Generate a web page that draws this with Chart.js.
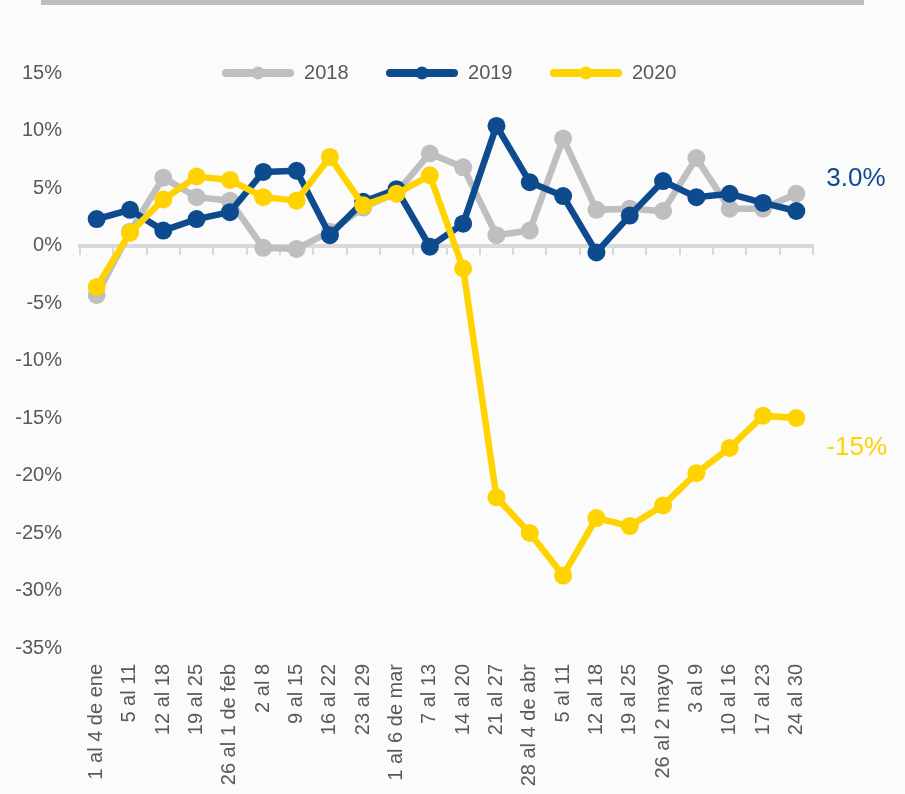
<!DOCTYPE html>
<html>
<head>
<meta charset="utf-8">
<script src="https://cdn.jsdelivr.net/npm/chart.js@4/dist/chart.umd.min.js"></script>
<style>
  html, body { margin: 0; padding: 0; background: #fbfbfb; }
  #wrap { position: relative; width: 905px; height: 794px; }
  #bar { position: absolute; left: 41px; top: 0; width: 823px; height: 5px; background: #bcbdc1; }
  canvas { display: block; }
</style>
</head>
<body>
<div id="wrap">
  <canvas id="c" width="905" height="794"></canvas>
  <div id="bar"></div>
</div>
<script>
// ---- data ----
const categories = ['1 al 4 de ene','5 al 11','12 al 18','19 al 25','26 al 1 de feb','2 al 8','9 al 15','16 al 22','23 al 29','1 al 6 de mar','7 al 13','14 al 20','21 al 27','28 al 4 de abr','5 al 11','12 al 18','19 al 25','26 al 2 mayo','3 al 9','10 al 16','17 al 23','24 al 30'];
const seriesNames = ['2018', '2019', '2020'];
const values2018 = [-4.3, 1.2, 5.9, 4.2, 3.9, -0.2, -0.3, 1.2, 3.3, 4.6, 8.0, 6.8, 0.9, 1.3, 9.3, 3.1, 3.2, 3.0, 7.6, 3.2, 3.2, 4.5];
const values2019 = [2.3, 3.1, 1.3, 2.3, 2.9, 6.4, 6.5, 0.9, 3.8, 4.9, -0.1, 1.9, 10.4, 5.5, 4.3, -0.6, 2.6, 5.6, 4.2, 4.5, 3.7, 3.0];
const values2020 = [-3.6, 1.1, 4.0, 6.0, 5.7, 4.2, 3.9, 7.7, 3.5, 4.5, 6.1, -2.0, -21.9, -25.0, -28.7, -23.7, -24.4, -22.6, -19.8, -17.6, -14.8, -15.0];
const endLabels = { '2019': '3.0%', '2020': '-15%' };
const yMin = -35, yMax = 15, yStep = 5;

// ---- styles ----
const GRAY = '#bfbfc1', BLUE = '#0e4a8e', YELLOW = '#ffd300', TEXT = '#595959', AXIS = '#d9d9d9';
const FONT = "'Liberation Sans', Arial, sans-serif";

function legendSwatch(color) {
  const cv = document.createElement('canvas');
  cv.width = 72; cv.height = 16;
  const g = cv.getContext('2d');
  g.strokeStyle = color; g.lineWidth = 8; g.lineCap = 'round';
  g.beginPath(); g.moveTo(4, 8); g.lineTo(68, 8); g.stroke();
  g.fillStyle = color;
  g.beginPath(); g.arc(36, 8, 6.5, 0, Math.PI * 2); g.fill();
  return cv;
}

function ds(label, data, color, order) {
  return {
    label, data, order,
    borderColor: color, backgroundColor: color,
    pointBackgroundColor: color, pointBorderColor: color,
    borderWidth: 6.5, pointRadius: 9, pointHoverRadius: 9, pointBorderWidth: 0,
    tension: 0, fill: false
  };
}

const legendShrink = {
  id: 'legendShrink',
  beforeInit(chart) {
    const orig = chart.legend.fit;
    chart.legend.fit = function () {
      orig.call(this);
      this.height = 47.5;
    };
  },
  afterLayout(chart) {
    // widen the legend's clip box so the overlapping row is not cut off
    chart.legend.bottom = chart.legend.top + 90;
  }
};

const endLabelPlugin = {
  id: 'endLabels',
  afterDatasetsDraw(chart) {
    const ctx = chart.ctx;
    const x = chart.scales.x, y = chart.scales.y;
    const offsets = { '2019': -32, '2020': 29.5 };
    chart.data.datasets.forEach((d) => {
      const txt = endLabels[d.label];
      if (!txt) return;
      const n = d.data.length - 1;
      const px = x.getPixelForValue(n) + 30;
      const py = y.getPixelForValue(d.data[n]) + offsets[d.label];
      ctx.save();
      ctx.font = '26px ' + FONT;
      ctx.fillStyle = d.borderColor;
      ctx.textAlign = 'left';
      ctx.textBaseline = 'middle';
      ctx.fillText(txt, px, py);
      ctx.restore();
    });
  }
};

const swatches = [legendSwatch(GRAY), legendSwatch(BLUE), legendSwatch(YELLOW)];

new Chart(document.getElementById('c'), {
  type: 'line',
  data: {
    labels: categories,
    datasets: [
      ds(seriesNames[0], values2018, GRAY, 3),
      ds(seriesNames[1], values2019, BLUE, 2),
      ds(seriesNames[2], values2020, YELLOW, 1)
    ]
  },
  options: {
    responsive: false,
    animation: false,
    events: [],
    layout: { padding: { top: 25.5, right: 6.5, left: 0, bottom: 0 } },
    plugins: {
      tooltip: { enabled: false },
      legend: {
        position: 'top',
        align: 'center',
        labels: {
          usePointStyle: true,
          pointStyleWidth: 72,
          padding: 37.5,
          color: TEXT,
          font: { family: FONT, size: 20 },
          sort: (a, b) => a.datasetIndex - b.datasetIndex,
          generateLabels(chart) {
            const items = Chart.defaults.plugins.legend.labels.generateLabels(chart);
            items.forEach((it) => { it.pointStyle = swatches[it.datasetIndex]; });
            return items;
          }
        }
      }
    },
    scales: {
      x: {
        type: 'category',
        position: 'bottom',
        offset: true,
        grid: { display: false },
        border: { display: false },
        ticks: {
          autoSkip: false, minRotation: 90, maxRotation: 90, padding: 8,
          color: TEXT, font: { family: FONT, size: 20 }
        },
        afterFit(s) { s.height = 146; }
      },
      x0: {
        type: 'category',
        position: { y: 0 },
        offset: true,
        grid: {
          display: true, drawOnChartArea: false, drawTicks: true,
          tickLength: 7, color: AXIS, lineWidth: 2, offset: true
        },
        border: { display: true, color: AXIS, width: 4 },
        ticks: { display: false }
      },
      y: {
        type: 'linear',
        position: 'left',
        min: yMin, max: yMax,
        grid: { display: false },
        border: { display: false },
        ticks: {
          stepSize: yStep, padding: 10, color: TEXT,
          font: { family: FONT, size: 20 },
          callback: (v) => v + '%'
        },
        afterFit(s) { s.width = 80; }
      },
      yR: {
        type: 'linear',
        position: 'right',
        display: true,
        grid: { display: false },
        border: { display: false },
        ticks: { display: false },
        afterFit(s) { s.width = 85.5; }
      }
    }
  },
  plugins: [legendShrink, endLabelPlugin]
});
</script>
</body>
</html>
